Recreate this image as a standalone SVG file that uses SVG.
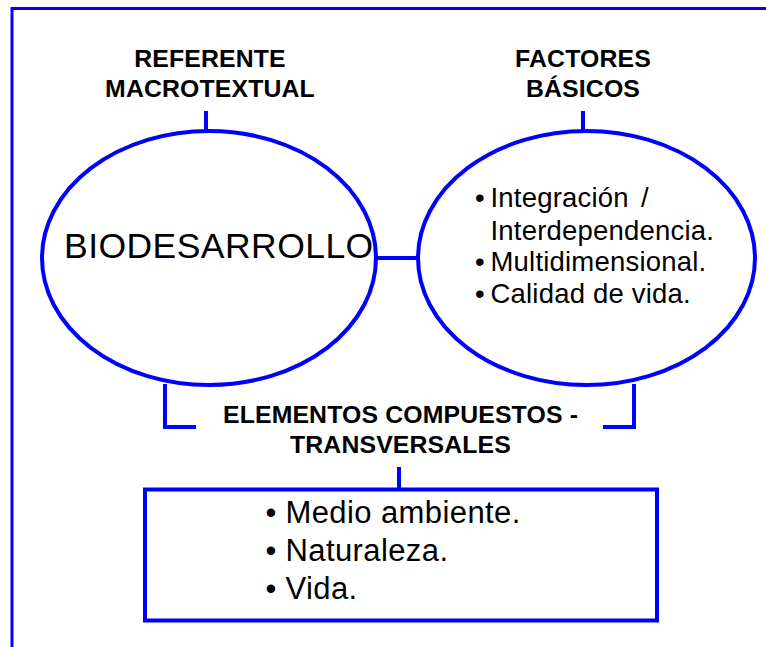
<svg xmlns="http://www.w3.org/2000/svg" width="766" height="647" viewBox="0 0 766 647">
<style>
.ln{fill:none;stroke:#0000ff;stroke-width:4}
.bd{fill:none;stroke:#0000ff;stroke-width:3}
.sh{fill:#ffffff;stroke:#0000ff;stroke-width:4}
.hd{font-family:"Liberation Sans",Arial,sans-serif;font-weight:bold;font-size:24.8px;fill:#000;text-anchor:middle;letter-spacing:0.15px}
.tx{font-family:"Liberation Sans",Arial,sans-serif;fill:#000}
</style>
<rect width="766" height="647" fill="#ffffff"/>
<g id="frame">
<path class="bd" d="M12,647 V8.5 H766"/>
</g>
<g id="connectors">
<line class="ln" x1="206" y1="111" x2="206" y2="131"/>
<line class="ln" x1="583" y1="111" x2="583" y2="131"/>
<line class="ln" x1="375" y1="258" x2="420" y2="258"/>
<path class="ln" d="M165,384 V427 H196"/>
<path class="ln" d="M634,384 V427 H603"/>
<line class="ln" x1="399" y1="467" x2="399" y2="489"/>
</g>
<g id="label-referente">
<text class="hd" x="210" y="67">REFERENTE</text>
<text class="hd" x="210" y="97">MACROTEXTUAL</text>
</g>
<g id="label-factores">
<text class="hd" x="583" y="67">FACTORES</text>
<text class="hd" x="583" y="97">BÁSICOS</text>
</g>
<g id="node-biodesarrollo">
<ellipse class="sh" cx="209" cy="258" rx="167" ry="127"/>
<text class="tx" x="64" y="258" font-size="35.5" letter-spacing="0.45">BIODESARROLLO</text>
</g>
<g id="node-factores">
<ellipse class="sh" cx="586.5" cy="258" rx="168.5" ry="127"/>
<g class="tx" font-size="27.5" letter-spacing="0.2">
<text x="475" y="207">•</text>
<text x="490.5" y="207">Integración <tspan x="641">/</tspan></text>
<text x="490.5" y="240">Interdependencia.</text>
<text x="475" y="271">•</text>
<text x="490.5" y="271">Multidimensional.</text>
<text x="475" y="303">•</text>
<text x="490.5" y="303">Calidad de vida.</text>
</g>
</g>
<g id="label-elementos">
<text class="hd" x="400.5" y="423">ELEMENTOS COMPUESTOS -</text>
<text class="hd" x="400.5" y="453">TRANSVERSALES</text>
</g>
<g id="node-elementos">
<rect class="sh" x="145" y="489.5" width="512" height="131"/>
<g class="tx" font-size="31" letter-spacing="0.4">
<text x="265.5" y="523">•</text>
<text x="285.5" y="523">Medio ambiente.</text>
<text x="265.5" y="561">•</text>
<text x="285.5" y="561">Naturaleza.</text>
<text x="265.5" y="599">•</text>
<text x="285.5" y="599">Vida.</text>
</g>
</g>
</svg>
